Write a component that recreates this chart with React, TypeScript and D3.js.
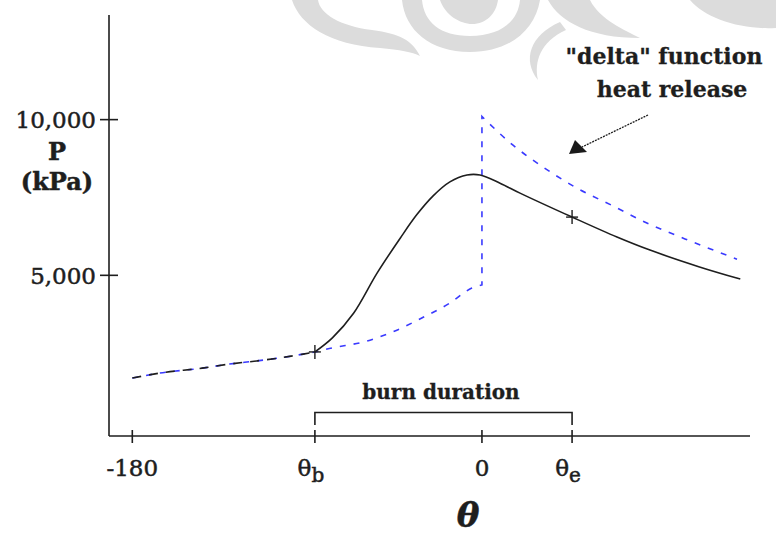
import React from "react";
import * as d3 from "d3";

// crank angle (deg) / pressure (kPa)
const thetaB = -86;
const thetaE = 46.4;

const finiteTheta = [-180, -166, -144, -130, -116, -105, -92, -86, -77, -66, -54, -42, -33.5, -25, -16.5, -7.7, -1, 9.3, 19.6, 46.4, 69.5, 86.5, 112, 133];
const finiteP = [1700, 1860, 2020, 2150, 2250, 2340, 2470, 2540, 2990, 3790, 5070, 6200, 6950, 7560, 8000, 8220, 8220, 7960, 7640, 6870, 6230, 5810, 5270, 4880];

// constant-volume ("delta") heat release: compression up to 0, jump, then expansion
const deltaCompTheta = [-180, -166, -144, -130, -116, -105, -92, -86, -77, -61, -46, -30, -16.5, -5.2, 0];
const deltaCompP = [1700, 1860, 2020, 2150, 2250, 2340, 2470, 2540, 2670, 2860, 3180, 3660, 4110, 4590, 4690];
const deltaExpTheta = [0, 16, 31.4, 48.9, 67.4, 84.9, 104.5, 131.3];
const deltaExpP = [10100, 9180, 8480, 7800, 7230, 6680, 6170, 5520];

const yTicks = [5000, 10000];
const yTickLabels = ["5,000", "10,000"];

type Pt = [number, number];

const App: React.FC = () => {
  const width = 776;
  const height = 535;

  const x = d3.scaleLinear().domain([-192, 138]).range([109, 750]);
  const y = d3.scaleLinear().domain([-160, 13360]).range([436, 15]);

  const smooth = d3
    .line<Pt>()
    .x((d) => x(d[0]))
    .y((d) => y(d[1]))
    .curve(d3.curveMonotoneX);

  const rounded = d3
    .line<Pt>()
    .x((d) => x(d[0]))
    .y((d) => y(d[1]))
    .curve(d3.curveCatmullRom.alpha(0.5));

  const finite: Pt[] = finiteTheta.map((t, i) => [t, finiteP[i]]);
  const deltaComp: Pt[] = deltaCompTheta.map((t, i) => [t, deltaCompP[i]]);
  const deltaExp: Pt[] = deltaExpTheta.map((t, i) => [t, deltaExpP[i]]);
  const compression = finite.filter((d) => d[0] <= thetaB);
  const burning = finite.filter((d) => d[0] >= thetaB);

  // one path for the blue curve: compression, vertical jump at TDC, expansion
  const deltaPath =
    (smooth(deltaComp) || "") + " L" + (smooth(deltaExp) || "").slice(1);

  const font = "'DejaVu Serif', serif";
  const ink = "#1e1e1e";

  const cross = (t: number) => {
    const p = d3.least(finite, (d) => Math.abs(d[0] - t))!;
    const cx = x(t);
    const cy = y(p[1]);
    return (
      <g key={t} stroke={ink} strokeWidth={1.4}>
        <line x1={cx - 6} x2={cx + 6} y1={cy} y2={cy} />
        <line x1={cx} x2={cx} y1={cy - 7} y2={cy + 7} />
      </g>
    );
  };

  const xTicks = [
    { v: -180, label: "-180", sub: "" },
    { v: thetaB, label: "θ", sub: "b" },
    { v: 0, label: "0", sub: "" },
    { v: thetaE, label: "θ", sub: "e" },
  ];

  const labelStyle = { fontFamily: font, fill: ink, stroke: ink, strokeWidth: 0.5 };

  return (
    <svg width={width} height={height} style={{ position: "absolute", left: 0, top: 0, background: "#fff" }}>
      {/* faint watermark */}
      <g fill="#dcdcdc">
        <path d="M292,0 C300,25 330,45 380,48 C400,50 412,52 420,56 C412,40 400,34 372,30 C340,26 320,14 318,0 Z" />
        <path d="M402,0 C405,30 430,52 470,52 C510,52 535,30 540,0 L520,0 C518,22 500,36 470,36 C440,36 424,22 422,0 Z" />
        <path d="M440,0 C445,15 460,24 472,24 C486,24 496,14 498,0 Z" />
        <path d="M548,0 C560,22 590,38 640,38 C625,30 600,20 590,0 Z" />
        <path d="M690,0 C705,18 740,30 776,28 L776,0 Z" />
        <path d="M560,22 C530,35 522,60 538,80 C534,62 540,42 566,30 Z" />
      </g>

      {/* axes */}
      <g stroke={ink} strokeWidth={1.6} fill="none">
        <line x1={109} x2={109} y1={15} y2={436} />
        <line x1={109} x2={750} y1={436} y2={436} />
        {yTicks.map((t) => (
          <line key={t} x1={100} x2={118} y1={y(t)} y2={y(t)} />
        ))}
        {xTicks.map((t) => (
          <line key={t.v} x1={x(t.v)} x2={x(t.v)} y1={430} y2={443} />
        ))}
      </g>

      {/* y tick labels */}
      {yTicks.map((t, i) => (
        <text key={t} x={96} y={y(t)} dy="0.36em" textAnchor="end" fontSize={23} {...labelStyle}>
          {yTickLabels[i]}
        </text>
      ))}
      <text x={57} y={160} textAnchor="middle" fontSize={24} fontWeight="bold" {...labelStyle}>
        P
      </text>
      <text x={57} y={190} textAnchor="middle" fontSize={24} fontWeight="bold" {...labelStyle}>
        (kPa)
      </text>

      {/* x tick labels */}
      {xTicks.map((t) => (
        <text key={t.v} x={x(t.v) + (t.sub ? -4 : 0)} y={476} textAnchor="middle" fontSize={23} {...labelStyle}>
          {t.label}
          {t.sub && (
            <tspan fontSize={20} dy={6}>
              {t.sub}
            </tspan>
          )}
        </text>
      ))}
      <text x={468} y={527} textAnchor="middle" fontSize={34} fontStyle="italic" fontWeight="bold" {...labelStyle}>
        θ
      </text>

      {/* burn duration bracket */}
      <path
        d={`M${x(thetaB)},425 V412.5 H${x(thetaE)} V425`}
        fill="none"
        stroke={ink}
        strokeWidth={1.6}
      />
      <text x={441} y={399} textAnchor="middle" fontSize={20} fontWeight="bold" {...labelStyle} strokeWidth={0.3}>
        burn duration
      </text>

      {/* curves */}
      <path d={deltaPath} fill="none" stroke="#3a3aff" strokeWidth={1.6} strokeDasharray="6 8" />
      <path d={smooth(compression) || ""} fill="none" stroke={ink} strokeWidth={1.6} strokeDasharray="9 8" />
      <path d={rounded(burning) || ""} fill="none" stroke={ink} strokeWidth={1.6} />
      {cross(thetaB)}
      {cross(thetaE)}

      {/* annotation */}
      <text x={664} y={64} textAnchor="middle" fontSize={22} fontWeight="bold" {...labelStyle} strokeWidth={0.3}>
        "delta" function
      </text>
      <text x={672} y={97} textAnchor="middle" fontSize={22} fontWeight="bold" {...labelStyle} strokeWidth={0.3}>
        heat release
      </text>
      <line x1={648} y1={115} x2={582} y2={147} stroke={ink} strokeWidth={1.3} strokeDasharray="2 1" />
      <path d="M569,154 L575,140 L587,152 Z" fill="#1a1a1a" />
    </svg>
  );
};

export default App;
